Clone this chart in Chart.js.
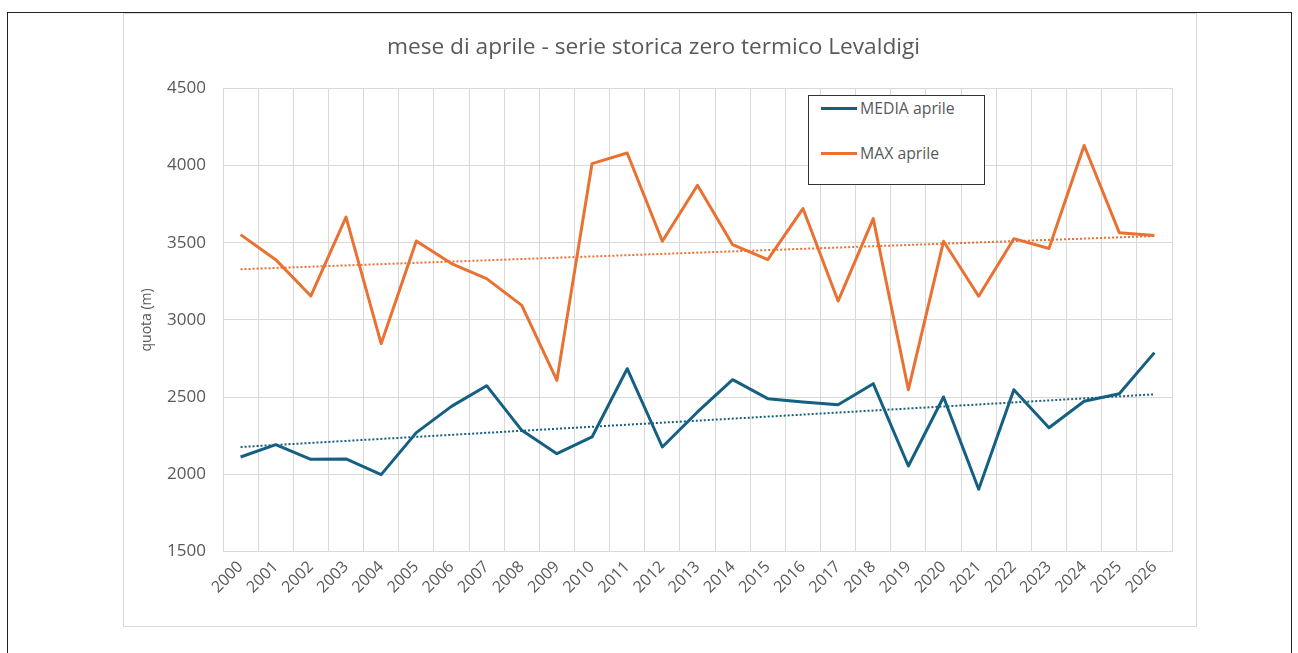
<!DOCTYPE html>
<html>
<head>
<meta charset="utf-8">
<script src="https://cdn.jsdelivr.net/npm/chart.js@4"></script>
<style>
  body { margin: 0; background: #fff; font-family: "Open Sans", sans-serif; }
  .frame { position: absolute; left: 7px; top: 12px; width: 1283px; height: 700px; border: 1.5px solid #222; }
  .box { position: absolute; left: 123px; top: 13px; width: 1074px; height: 614px; border: 1px solid #d9d9d9; box-sizing: border-box; }
  #legend { position: absolute; left: 808px; top: 95px; width: 177px; height: 90px; border: 1.5px solid #333; box-sizing: border-box; background: #fff; }
  .entry { position: absolute; left: 12px; font-size: 15.8px; color: #595959; line-height: 20px; }
  .entry span.swatch { display: inline-block; width: 36px; height: 3px; vertical-align: middle; margin-right: 3px; position: relative; top: -1px; }
</style>
</head>
<body>
<div class="frame"></div>
<div class="box"><canvas id="chart"></canvas></div>
<div id="legend"></div>
<script>
// --- data ---
const years = ['2000','2001','2002','2003','2004','2005','2006','2007','2008','2009','2010','2011','2012','2013',
  '2014','2015','2016','2017','2018','2019','2020','2021','2022','2023','2024','2025','2026'];
const mediaAprile = [2112, 2192, 2097, 2100, 1998, 2270, 2440, 2574, 2285, 2134, 2242, 2684, 2177, 2404,
  2613, 2490, 2468, 2451, 2587, 2054, 2501, 1903, 2548, 2302, 2473, 2522, 2788];
const maxAprile = [3552, 3390, 3155, 3666, 2846, 3511, 3365, 3267, 3094, 2609, 4012, 4081, 3509, 3872,
  3487, 3390, 3721, 3122, 3656, 2548, 3509, 3153, 3526, 3462, 4129, 3565, 3546];
// ends of the dotted linear trendlines (first and last year)
const trendMedia = [2177, 2518];
const trendMax = [3328, 3543];
const yRange = [1500, 4500];
const yStep = 500;

const BLUE = '#156082';
const ORANGE = '#E97132';
const TEXT = '#595959';
const GRID = '#d9d9d9';

function trendPoints(ends) {
  return [{ x: years[0], y: ends[0] }, { x: years[years.length - 1], y: ends[1] }];
}

const chart = new Chart(document.getElementById('chart'), {
  type: 'line',
  data: {
    labels: years,
    datasets: [
      { label: 'MEDIA aprile', data: mediaAprile, borderColor: BLUE, borderWidth: 3, pointRadius: 0, borderJoinStyle: 'round' },
      { label: 'MAX aprile', data: maxAprile, borderColor: ORANGE, borderWidth: 3, pointRadius: 0, borderJoinStyle: 'round' },
      { label: 'trend media', data: trendPoints(trendMedia), borderColor: BLUE, borderWidth: 2, borderDash: [2, 2], pointRadius: 0, trend: true },
      { label: 'trend max', data: trendPoints(trendMax), borderColor: ORANGE, borderWidth: 2, borderDash: [2, 2], pointRadius: 0, trend: true }
    ]
  },
  options: {
    responsive: true,
    maintainAspectRatio: false,
    animation: false,
    layout: { padding: { left: 11, right: 24, top: 10, bottom: 23 } },
    plugins: {
      legend: { display: false },
      tooltip: { enabled: false },
      title: {
        display: true,
        text: 'mese di aprile - serie storica zero termico Levaldigi',
        color: TEXT,
        font: { family: 'Open Sans', size: 22.7, weight: 'normal' },
        padding: { top: 10, bottom: 27 }
      }
    },
    scales: {
      x: {
        offset: true,
        grid: { offset: true, color: GRID, drawTicks: false },
        border: { display: false },
        ticks: { color: TEXT, font: { family: 'Open Sans', size: 16 }, minRotation: 45, maxRotation: 45, autoSkip: false, padding: 6 }
      },
      y: {
        min: yRange[0],
        max: yRange[1],
        grid: { color: GRID, drawTicks: false },
        border: { display: false },
        afterFit: s => { s.width = 88; },
        ticks: { stepSize: yStep, color: TEXT, font: { family: 'Open Sans', size: 17 }, padding: 17, callback: v => String(v) },
        title: { display: true, text: 'quota (m)', color: TEXT, font: { family: 'Open Sans', size: 14 }, padding: { top: 4, bottom: 4 } }
      }
    }
  }
});

// legend box inside the plot, built from the main series only
const legend = document.getElementById('legend');
chart.data.datasets.filter(d => !d.trend).forEach((d, i) => {
  const e = document.createElement('div');
  e.className = 'entry';
  e.style.top = (2 + i * 45) + 'px';
  e.innerHTML = `<span class="swatch" style="background:${d.borderColor}"></span>${d.label}`;
  legend.appendChild(e);
});
</script>
</body>
</html>
